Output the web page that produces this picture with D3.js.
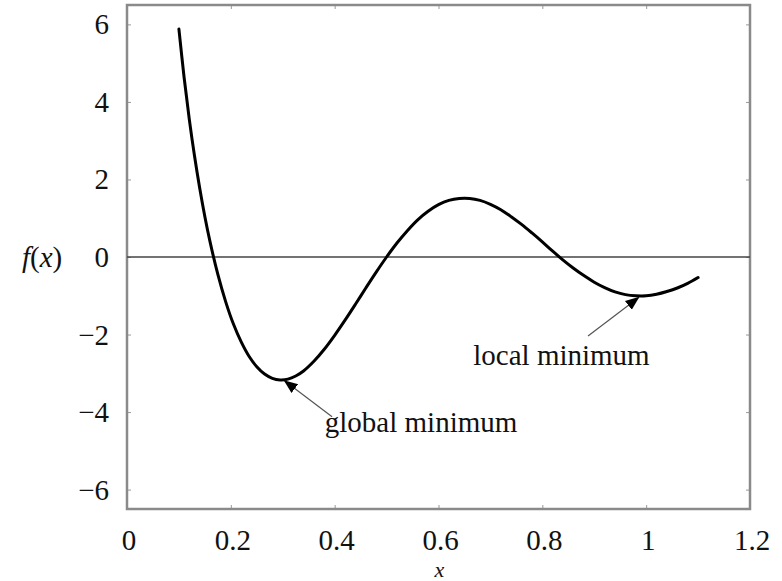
<!DOCTYPE html>
<html>
<head>
<meta charset="utf-8">
<script src="https://cdn.jsdelivr.net/npm/d3@7"></script>
<style>
  body { margin: 0; background: #fff; }
  text { font-family: "Liberation Serif", "Times New Roman", serif; fill: #111; }
</style>
</head>
<body>
<svg id="chart" width="782" height="581"></svg>
<script>
// curve
var xs = [0.10, 0.11, 0.12, 0.13, 0.14, 0.15, 0.16, 0.175, 0.19, 0.205, 0.22, 0.235, 0.25, 0.265,
          0.28, 0.295, 0.31, 0.325, 0.34, 0.36, 0.38, 0.40, 0.42, 0.44, 0.46, 0.48, 0.50,
          0.52, 0.54, 0.56, 0.58, 0.60, 0.62, 0.64, 0.66, 0.68, 0.70, 0.72, 0.74, 0.76,
          0.78, 0.80, 0.82, 0.84, 0.86, 0.88, 0.90, 0.92, 0.94, 0.96, 0.98, 1.00,
          1.02, 1.04, 1.06, 1.08, 1.10];
var ys = [5.88, 4.63, 3.55, 2.61, 1.78, 1.04, 0.39, -0.45, -1.15, -1.73, -2.19, -2.56, -2.83, -3.02,
          -3.13, -3.17, -3.15, -3.07, -2.94, -2.69, -2.38, -2.02, -1.63, -1.22, -0.80, -0.39, 0,
          0.36, 0.68, 0.96, 1.18, 1.35, 1.46, 1.51, 1.51, 1.46, 1.36, 1.22, 1.04, 0.84,
          0.62, 0.39, 0.15, -0.08, -0.29, -0.48, -0.65, -0.79, -0.90, -0.97, -1.00, -1.00,
          -0.96, -0.89, -0.80, -0.68, -0.53];

var xTicks = [0, 0.2, 0.4, 0.6, 0.8, 1, 1.2];
var yTicks = [-6, -4, -2, 0, 2, 4, 6];

// annotations: text, arrow tip, arrow tail, label anchor (data units)
var notes = [
  {text: "global minimum", tip: [0.304, -3.2], tail: [0.395, -4.12], at: [0.381, -4.51]},
  {text: "local minimum",  tip: [0.985, -1.05], tail: [0.888, -2.04], at: [0.667, -2.78]}
];

var svg = d3.select("#chart");
var x = d3.scaleLinear().domain([0, 1.2]).range([127, 750]);
var y = d3.scaleLinear().domain([-6.5, 6.5]).range([509, 5]);

var defs = svg.append("defs");
defs.append("marker").attr("id", "head")
  .attr("viewBox", "0 0 10 10").attr("refX", 9).attr("refY", 5)
  .attr("markerWidth", 14).attr("markerHeight", 14).attr("markerUnits", "userSpaceOnUse")
  .attr("orient", "auto")
  .append("path").attr("d", "M0,1 L10,5 L0,9 Z").attr("fill", "#000");

// inward ticks on all four sides
function ticky(g) { g.select(".domain").remove(); g.selectAll("line").attr("stroke", "#999"); g.selectAll("text").remove(); }
svg.append("g").attr("transform", "translate(0," + y(-6.5) + ")")
  .call(d3.axisTop(x).tickValues(xTicks).tickSize(4)).call(ticky);
svg.append("g").attr("transform", "translate(0," + y(6.5) + ")")
  .call(d3.axisBottom(x).tickValues(xTicks).tickSize(4)).call(ticky);
svg.append("g").attr("transform", "translate(" + x(0) + ",0)")
  .call(d3.axisRight(y).tickValues(yTicks).tickSize(4)).call(ticky);
svg.append("g").attr("transform", "translate(" + x(1.2) + ",0)")
  .call(d3.axisLeft(y).tickValues(yTicks).tickSize(4)).call(ticky);

// frame
svg.append("rect")
  .attr("x", x(0)).attr("y", y(6.5))
  .attr("width", x(1.2) - x(0)).attr("height", y(-6.5) - y(6.5))
  .attr("fill", "none").attr("stroke", "#8a8a8a").attr("stroke-width", 2.5);

// zero line
svg.append("line")
  .attr("x1", x(0)).attr("x2", x(1.2)).attr("y1", y(0)).attr("y2", y(0))
  .attr("stroke", "#444").attr("stroke-width", 1.4);

// tick labels
var fmt = function(d) { return d < 0 ? "\u2212" + Math.abs(d) : String(d); };
svg.append("g").selectAll("text").data(xTicks).join("text")
  .attr("x", function(d) { return x(d) + 2; }).attr("y", 550)
  .attr("text-anchor", "middle").style("font-size", "29px")
  .text(fmt);
svg.append("g").selectAll("text").data(yTicks).join("text")
  .attr("x", 109).attr("y", function(d) { return y(d) + 10; })
  .attr("text-anchor", "end").style("font-size", "29px")
  .text(fmt);

// axis titles
svg.append("text").attr("x", x(0.6) + 1).attr("y", 577)
  .attr("text-anchor", "middle").style("font-size", "22px").style("font-style", "italic")
  .text("x");
var fl = svg.append("text").attr("x", 22).attr("y", y(0) + 10).style("font-size", "29px");
fl.append("tspan").style("font-style", "italic").text("f");
fl.append("tspan").text("(");
fl.append("tspan").style("font-style", "italic").text("x");
fl.append("tspan").text(")");

// the curve
var pts = d3.zip(xs, ys);
svg.append("path").datum(pts)
  .attr("fill", "none").attr("stroke", "#000").attr("stroke-width", 3)
  .attr("stroke-linecap", "round")
  .attr("d", d3.line().x(function(d) { return x(d[0]); }).y(function(d) { return y(d[1]); })
    .curve(d3.curveCatmullRom.alpha(0.5)));

// annotations
var ann = svg.append("g").selectAll("g").data(notes).join("g");
ann.append("line")
  .attr("x1", function(d) { return x(d.tail[0]); }).attr("y1", function(d) { return y(d.tail[1]); })
  .attr("x2", function(d) { return x(d.tip[0]); }).attr("y2", function(d) { return y(d.tip[1]); })
  .attr("stroke", "#555").attr("stroke-width", 1.2).attr("marker-end", "url(#head)");
ann.append("text")
  .attr("x", function(d) { return x(d.at[0]); }).attr("y", function(d) { return y(d.at[1]); })
  .style("font-size", "29px")
  .text(function(d) { return d.text; });
</script>
</body>
</html>
